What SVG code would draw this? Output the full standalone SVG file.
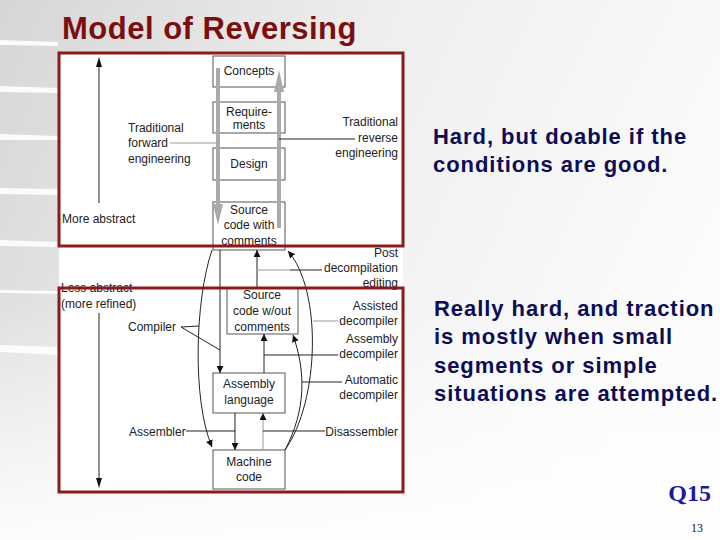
<svg xmlns="http://www.w3.org/2000/svg" width="720" height="540" viewBox="0 0 720 540">
<defs>
  <linearGradient id="bg" x1="0" y1="0" x2="1" y2="0.35">
    <stop offset="0" stop-color="#d6d6d6"/>
    <stop offset="0.5" stop-color="#efefef"/>
    <stop offset="1" stop-color="#fbfbfb"/>
  </linearGradient>
  <linearGradient id="fade" x1="0" y1="0" x2="0" y2="1">
    <stop offset="0.55" stop-color="#ffffff" stop-opacity="0"/>
    <stop offset="1" stop-color="#ffffff" stop-opacity="0.9"/>
  </linearGradient>
  <marker id="ah" viewBox="0 0 10 10" refX="10" refY="5" markerWidth="7" markerHeight="7" markerUnits="userSpaceOnUse" orient="auto">
    <path d="M0,0 L10,5 L0,10 Z" fill="#111"/>
  </marker>
  <style>
    .t{font-family:"Liberation Sans",Arial,sans-serif;font-size:12px;fill:#222}
    .c{text-anchor:middle}
    .r{text-anchor:end}
    .box{fill:#fff;stroke:#555;stroke-width:1}
    .ln{fill:none;stroke:#222;stroke-width:1}
    .gl{fill:none;stroke:#999;stroke-width:1}
    .frame{fill:none;stroke:#8b1a1a;stroke-width:3}
    .side{font-family:"Liberation Sans",Arial,sans-serif;font-size:22px;font-weight:bold;fill:#0d0d55;letter-spacing:0.95px}
  </style>
</defs>
<rect width="720" height="540" fill="url(#bg)"/>
<rect width="720" height="540" fill="url(#fade)"/>
<g fill="#ffffff" opacity="0.9">
  <path d="M0,40 L58,42 L58,46 L0,45 Z"/>
  <path d="M0,86 L58,88 L58,93 L0,92 Z"/>
  <path d="M0,134 L58,136 L58,140 L0,140 Z"/>
  <path d="M0,188 L58,189 L58,195 L0,194 Z"/>
  <path d="M0,240 L58,242 L58,247 L0,246 Z"/>
  <path d="M0,290 L58,291 L58,294 L0,293 Z"/>
  <path d="M0,345 L58,347 L58,355 L0,352 Z"/>
</g>
<text x="62" y="39" font-family="'Liberation Sans',Arial,sans-serif" font-size="31" font-weight="bold" fill="#7b0f0f" letter-spacing="0.5">Model of Reversing</text>
<rect x="59" y="53" width="344" height="439" fill="#ffffff"/>

<g id="axis">
  <line x1="99" y1="66" x2="99" y2="203" class="ln"/>
  <path d="M99,57 L96,67 L102,67 Z" fill="#111"/>
  <line x1="99" y1="313" x2="99" y2="478" class="ln"/>
  <path d="M99,488 L96,478 L102,478 Z" fill="#111"/>
  <text x="62" y="223" class="t">More abstract</text>
  <text x="61" y="292" class="t">Less abstract</text>
  <text x="61" y="308" class="t">(more refined)</text>
</g>

<g id="concepts"><rect x="213" y="56" width="72" height="31" class="box"/><text x="249" y="75" class="t c">Concepts</text></g>
<g id="requirements"><rect x="213" y="102" width="72" height="31" class="box"/><text x="249" y="116" class="t c">Require-</text><text x="249" y="129" class="t c">ments</text></g>
<g id="design"><rect x="213" y="148" width="72" height="32" class="box"/><text x="249" y="168" class="t c">Design</text></g>
<g id="src-comments"><rect x="213" y="202" width="72" height="48" class="box"/><text x="249" y="214" class="t c">Source</text><text x="249" y="229" class="t c">code with</text><text x="249" y="245" class="t c">comments</text></g>
<g id="src-nocomments"><rect x="227" y="288" width="71" height="46" class="box" stroke="#222"/><text x="262" y="299" class="t c">Source</text><text x="262" y="315" class="t c">code w/out</text><text x="262" y="331" class="t c">comments</text></g>
<g id="assembly"><rect x="213" y="373" width="72" height="40" class="box"/><text x="249" y="388" class="t c">Assembly</text><text x="249" y="404" class="t c">language</text></g>
<g id="machine"><rect x="213" y="450" width="72" height="39" class="box"/><text x="249" y="466" class="t c">Machine</text><text x="249" y="481" class="t c">code</text></g>

<g id="connectors">
  <line x1="218" y1="68" x2="218" y2="206" stroke="#aaa" stroke-width="4"/>
  <path d="M213,204 L223,204 L218,225 Z" fill="#aaa"/>
  <line x1="279" y1="90" x2="279" y2="228" stroke="#aaa" stroke-width="4"/>
  <path d="M274,92 L284,92 L279,70 Z" fill="#aaa"/>
  <line x1="170" y1="143" x2="218" y2="143" class="gl"/>
  <line x1="279" y1="139" x2="355" y2="139" class="ln"/>

  <path d="M212,250 C195,300 192,400 212,447" class="ln" marker-end="url(#ah)"/>
  <line x1="220" y1="250" x2="220" y2="373" class="ln" marker-end="url(#ah)"/>
  <line x1="181" y1="327" x2="199" y2="326" class="ln"/>
  <line x1="181" y1="327" x2="220" y2="350" class="ln"/>
  <line x1="235" y1="413" x2="235" y2="450" class="ln" marker-end="url(#ah)"/>
  <line x1="186" y1="431" x2="235" y2="431" class="ln"/>
  <line x1="263" y1="450" x2="263" y2="413" class="gl" marker-end="url(#ah)"/>
  <line x1="263" y1="431" x2="325" y2="431" class="ln"/>
  <line x1="264" y1="373" x2="264" y2="334" class="ln" marker-end="url(#ah)"/>
  <line x1="264" y1="355" x2="338" y2="355" class="ln"/>
  <path d="M285,450 C306,410 306,372 293,335" class="ln" marker-end="url(#ah)"/>
  <line x1="302" y1="382" x2="342" y2="382" class="ln"/>
  <path d="M285,450 C320,400 322,290 288,251" class="ln" marker-end="url(#ah)"/>
  <line x1="313" y1="321" x2="338" y2="321" class="gl"/>
  <line x1="257" y1="288" x2="257" y2="250" class="ln" marker-end="url(#ah)"/>
  <line x1="257" y1="270" x2="290" y2="270" class="gl"/>
  <line x1="290" y1="270" x2="322" y2="270" class="ln"/>
</g>

<g id="labels">
  <text x="128" y="132" class="t">Traditional</text>
  <text x="128" y="147" class="t">forward</text>
  <text x="128" y="163" class="t">engineering</text>
  <text x="398" y="126" class="t r">Traditional</text>
  <text x="398" y="142" class="t r">reverse</text>
  <text x="398" y="157" class="t r">engineering</text>
  <text x="398" y="257" class="t r">Post</text>
  <text x="398" y="272" class="t r">decompilation</text>
  <text x="398" y="287" class="t r">editing</text>
  <text x="128" y="331" class="t">Compiler</text>
  <text x="398" y="310" class="t r">Assisted</text>
  <text x="398" y="325" class="t r">decompiler</text>
  <text x="398" y="343" class="t r">Assembly</text>
  <text x="398" y="358" class="t r">decompiler</text>
  <text x="398" y="384" class="t r">Automatic</text>
  <text x="398" y="399" class="t r">decompiler</text>
  <text x="129" y="436" class="t">Assembler</text>
  <text x="398" y="436" class="t r">Disassembler</text>
</g>

<rect x="59" y="53" width="344" height="193" class="frame"/>
<rect x="59" y="288" width="344" height="204" class="frame"/>

<g id="notes">
  <text x="433" y="144" class="side">Hard, but doable if the</text>
  <text x="433" y="172" class="side">conditions are good.</text>
  <text x="434" y="316" class="side">Really hard, and traction</text>
  <text x="434" y="344" class="side">is mostly when small</text>
  <text x="434" y="373" class="side">segments or simple</text>
  <text x="434" y="401" class="side">situations are attempted.</text>
  <text x="711" y="501" text-anchor="end" font-family="'Liberation Serif','Times New Roman',serif" font-size="24" font-weight="bold" fill="#1a1aa0">Q15</text>
  <text x="703" y="532" text-anchor="end" font-family="'Liberation Serif','Times New Roman',serif" font-size="12" fill="#111">13</text>
</g>
</svg>
